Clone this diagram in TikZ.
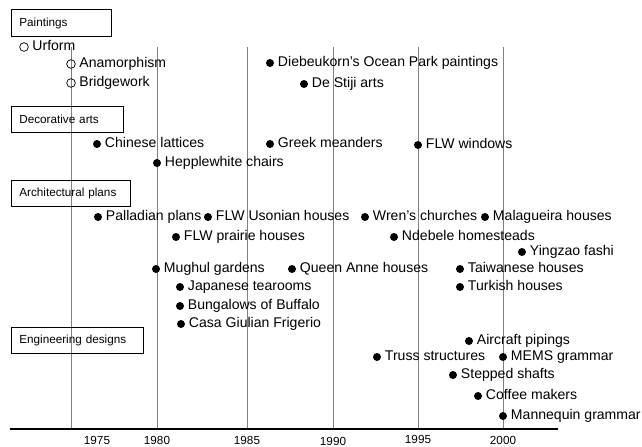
\documentclass[tikz,border=0pt]{standalone}
\usepackage{fontspec}
\setmainfont{Liberation Sans}
\usepackage{tikz}
\usetikzlibrary{positioning}

\begin{document}
\begin{tikzpicture}[
  x=0.03cm, y=-0.03cm,
  catbox/.style={rectangle, draw, line width=0.6pt, minimum height=0.8cm,
                 inner xsep=0.24cm, anchor=west, align=left,
                 font=\fontsize{10}{12}\selectfont},
  dot/.style={circle, fill=black, inner sep=0pt, minimum size=0.24cm},
  opendot/.style={circle, draw, line width=0.6pt, inner sep=0pt, minimum size=0.26cm},
  item/.style={font=\fontsize{12}{14}\selectfont, inner xsep=3pt,
               text height=8.6pt, text depth=2.6pt},
  gridline/.style={black!50, line width=0.6pt},
  year/.style={font=\fontsize{10}{12}\selectfont},
]
\useasboundingbox (0,0) rectangle (642,447);

% Time axis
\coordinate (axisL) at (10,429);
\coordinate (axisR) at (558,429);
\coordinate (t1975) at (71,47);
\coordinate (t1980) at (157,47);
\coordinate (t1985) at (247,47);
\coordinate (t1990) at (333,47);
\coordinate (t1995) at (418,47);
\coordinate (t2000) at (503,47);

\draw[gridline] (t1975) -- (t1975 |- axisL);
\draw[gridline] (t1980) -- (t1980 |- axisL);
\draw[gridline] (t1985) -- (t1985 |- axisL);
\draw[gridline] (t1990) -- (t1990 |- axisL);
\draw[gridline] (t1995) -- (t1995 |- axisL);
\draw[gridline] (t2000) -- (t2000 |- axisL);
\draw[line width=1.1pt] (axisL) -- (axisR);

\node[year] (y1975) at (97,440) {1975};
\node[year] (y1980) at (157,440) {1980};
\node[year] (y1985) at (247,440) {1985};
\node[year] (y1990) at (333,441) {1990};
\node[year] (y1995) at (418,439) {1995};
\node[year] (y2000) at (503,440) {2000};

% Paintings
\node[catbox, text width=2.52cm] (paint) at (11,23) {Paintings};
\node[opendot, label={[item]right:Urform}] (urform) at (24,47) {};
\node[opendot, label={[item]right:Anamorphism}] (anamorph) at (71,64) {};
\node[opendot, label={[item]right:Bridgework}] (bridge) at (71,83) {};
\node[dot, label={[item]right:Diebeukorn's Ocean Park paintings}] (ocean) at (270,63) {};
\node[dot, label={[item]right:De Stiji arts}] (destiji) at (304,84) {};

% Decorative arts
\node[catbox, text width=2.88cm] (decor) at (11,119.5) {Decorative arts};
\node[dot, label={[item]right:Chinese lattices}] (chinese) at (97,144) {};
\node[dot, label={[item]right:Greek meanders}] (greek) at (270,144) {};
\node[dot, label={[item]right:FLW windows}] (flwwin) at (418,145) {};
\node[dot, label={[item]right:Hepplewhite chairs}] (hepple) at (157,163) {};

% Architectural plans
\node[catbox, text width=3.09cm] (archi) at (11,193.5) {Architectural plans};
\node[dot, label={[item]right:Palladian plans}] (palladian) at (98,217) {};
\node[dot, label={[item]right:FLW Usonian houses}] (usonian) at (208,217) {};
\node[dot, label={[item]right:Wren's churches}] (wren) at (365,217) {};
\node[dot, label={[item]right:Malagueira houses}] (malag) at (485,217) {};
\node[dot, label={[item]right:FLW prairie houses}] (prairie) at (176,237) {};
\node[dot, label={[item]right:Ndebele homesteads}] (ndebele) at (394,237) {};
\node[dot, label={[item]right:Yingzao fashi}] (yingzao) at (522,252) {};
\node[dot, label={[item]right:Mughul gardens}] (mughul) at (156,269) {};
\node[dot, label={[item]right:Queen Anne houses}] (queen) at (292,269) {};
\node[dot, label={[item]right:Taiwanese houses}] (taiwan) at (460,269) {};
\node[dot, label={[item]right:Japanese tearooms}] (japan) at (180,287) {};
\node[dot, label={[item]right:Turkish houses}] (turkish) at (460,287) {};
\node[dot, label={[item]right:Bungalows of Buffalo}] (buffalo) at (180,306) {};
\node[dot, label={[item]right:Casa Giulian Frigerio}] (casa) at (181,324) {};

% Engineering designs
\node[catbox, text width=3.48cm] (engin) at (11,340.5) {Engineering designs};
\node[dot, label={[item]right:Aircraft pipings}] (aircraft) at (469,341) {};
\node[dot, label={[item]right:Truss structures}] (truss) at (377,357) {};
\node[dot, label={[item]right:MEMS grammar}] (mems) at (503,357) {};
\node[dot, label={[item]right:Stepped shafts}] (shafts) at (453,375) {};
\node[dot, label={[item]right:Coffee makers}] (coffee) at (478,396) {};
\node[dot, label={[item]right:Mannequin grammar}] (manneq) at (503,416) {};

\end{tikzpicture}
\end{document}
